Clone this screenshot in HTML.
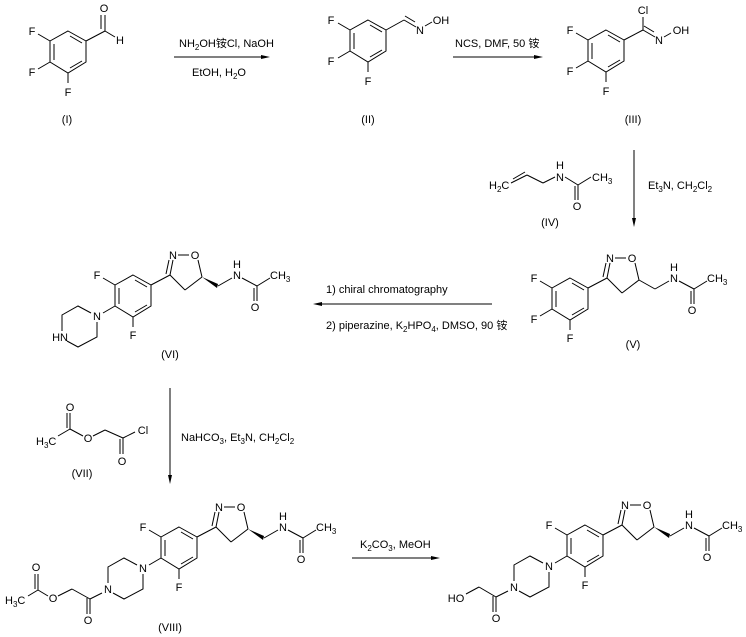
<!DOCTYPE html>
<html><head><meta charset="utf-8"><style>
html,body{margin:0;padding:0;background:#fff;width:746px;height:637px;overflow:hidden}
svg text{font-family:"Liberation Sans","Noto Sans CJK SC",sans-serif;font-size:11px;fill:#000}
.m{text-anchor:middle}.e{text-anchor:end}
</style></head><body>
<svg width="746" height="637" viewBox="0 0 746 637" xmlns="http://www.w3.org/2000/svg">
<defs>
<g id="ring" stroke="#000" stroke-width="1" fill="none">
<polygon points="0,0 18,10 18,31 0,42 -18,31 -18,10"/>
<line x1="2" y1="5" x2="14" y2="12"/><line x1="14" y1="30" x2="2" y2="37"/><line x1="-14" y1="13" x2="-14" y2="29"/>
<line x1="-18" y1="10" x2="-30" y2="3"/><line x1="-18" y1="31" x2="-30" y2="38"/><line x1="0" y1="42" x2="0" y2="52"/>
</g>
<g id="isox" stroke="#000" stroke-width="1" fill="none">
<line x1="18" y1="10" x2="37" y2="0"/>
<line x1="37" y1="0" x2="40" y2="-15"/><line x1="33" y1="-1" x2="36" y2="-15"/>
<line x1="45" y1="-20" x2="56" y2="-20"/>
<line x1="65" y1="-15" x2="69" y2="2"/><line x1="69" y1="2" x2="52" y2="15"/><line x1="52" y1="15" x2="37" y2="0"/>
<line x1="85" y1="11" x2="99" y2="3"/><line x1="109" y1="3" x2="124" y2="11"/><line x1="124" y1="11" x2="137" y2="3"/>
<line x1="124" y1="11" x2="124" y2="26"/><line x1="121" y1="13" x2="121" y2="26"/>
</g>
<g id="pip" stroke="#000" stroke-width="1" fill="none">
<polyline points="-6,-3 -19,-10 -35,-1 -35,15"/><polyline points="-30,25 -19,31 0,21 0,6"/>
</g>
</defs>

<!-- I -->
<use href="#ring" x="68" y="31"/>
<g stroke="#000" fill="none"><line x1="86" y1="41" x2="105" y2="31"/><line x1="105" y1="31" x2="105" y2="15"/><line x1="101" y1="29" x2="101" y2="15"/><line x1="105" y1="31" x2="115" y2="37"/></g>
<text class="m" x="32" y="35">F</text><text class="m" x="32" y="76">F</text><text class="m" x="68" y="96">F</text>
<text class="m" x="104" y="12">O</text><text class="m" x="120" y="44">H</text>
<text class="m" x="67" y="123">(I)</text>

<!-- arrow 1 -->
<line x1="174" y1="57" x2="266" y2="57" stroke="#000"/><polygon points="270,57 261,55 261,59" fill="#000"/>
<text x="179" y="47">NH<tspan font-size="8" dy="3">2</tspan><tspan dy="-3">OH铵Cl, NaOH</tspan></text>
<text x="192" y="76">EtOH, H<tspan font-size="8" dy="3">2</tspan><tspan dy="-3">O</tspan></text>

<!-- II -->
<use href="#ring" x="368" y="20"/>
<g stroke="#000" fill="none"><line x1="386" y1="30" x2="404" y2="20"/><line x1="404" y1="20" x2="416" y2="27"/><line x1="405" y1="16" x2="415" y2="22"/><line x1="425" y1="26" x2="432" y2="22"/></g>
<text class="m" x="331" y="24">F</text><text class="m" x="331" y="65">F</text><text class="m" x="368" y="85">F</text>
<text class="m" x="420" y="34">N</text><text class="m" x="441" y="24">OH</text>
<text class="m" x="368" y="123">(II)</text>

<!-- arrow 2 -->
<line x1="453" y1="57" x2="539" y2="57" stroke="#000"/><polygon points="543,57 534,55 534,59" fill="#000"/>
<text x="455" y="47">NCS, DMF, 50 铵</text>

<!-- III -->
<use href="#ring" x="606" y="30"/>
<g stroke="#000" fill="none"><line x1="624" y1="40" x2="643" y2="30"/><line x1="643" y1="30" x2="643" y2="17"/><line x1="643" y1="30" x2="655" y2="37"/><line x1="644" y1="26" x2="654" y2="32"/><line x1="664" y1="37" x2="671" y2="33"/></g>
<text class="m" x="570" y="34">F</text><text class="m" x="570" y="75">F</text><text class="m" x="606" y="95">F</text>
<text class="m" x="643" y="14">Cl</text><text class="m" x="659" y="44">N</text><text class="m" x="681" y="34">OH</text>
<text class="m" x="633" y="123">(III)</text>

<!-- vertical arrow -->
<line x1="634" y1="150" x2="634" y2="222" stroke="#000"/><polygon points="634,227 632,218 636,218" fill="#000"/>
<text x="648" y="189">Et<tspan font-size="8" dy="3">3</tspan><tspan dy="-3">N, CH</tspan><tspan font-size="8" dy="3">2</tspan><tspan dy="-3">Cl</tspan><tspan font-size="8" dy="3">2</tspan></text>

<!-- IV -->
<g stroke="#000" fill="none"><line x1="511" y1="183" x2="527" y2="175"/><line x1="513" y1="179" x2="525" y2="172"/><line x1="527" y1="175" x2="543" y2="183"/><line x1="543" y1="183" x2="555" y2="177"/><line x1="565" y1="177" x2="578" y2="185"/><line x1="578" y1="185" x2="591" y2="177"/><line x1="578" y1="185" x2="578" y2="200"/><line x1="575" y1="186" x2="575" y2="200"/></g>
<text x="489" y="189">H<tspan font-size="8" dy="3">2</tspan><tspan dy="-3">C</tspan></text>
<text class="m" x="560" y="169">H</text><text class="m" x="560" y="181">N</text>
<text x="592" y="181">CH<tspan font-size="8" dy="3">3</tspan></text><text class="m" x="577" y="210">O</text>
<text class="m" x="550" y="226">(IV)</text>

<!-- V -->
<use href="#ring" x="570" y="278"/><use href="#isox" x="570" y="278"/>
<line x1="639" y1="280" x2="655" y2="289" stroke="#000"/>
<g transform="translate(570,278)">
<text class="m" x="-36" y="4">F</text><text class="m" x="-36" y="45">F</text><text class="m" x="0" y="64">F</text>
<text class="m" x="40" y="-16">N</text><text class="m" x="62" y="-16">O</text>
<text class="m" x="104" y="-7">H</text><text class="m" x="104" y="4">N</text>
<text x="137" y="4">CH<tspan font-size="8" dy="3">3</tspan></text><text class="m" x="122" y="36">O</text>
<text class="m" x="63" y="70">(V)</text></g>

<!-- arrow left -->
<line x1="318" y1="304" x2="492" y2="304" stroke="#000"/><polygon points="313,304 322,302 322,306" fill="#000"/>
<text x="326" y="293">1) chiral chromatography</text>
<text x="326" y="329">2) piperazine, K<tspan font-size="8" dy="3">2</tspan><tspan dy="-3">HPO</tspan><tspan font-size="8" dy="3">4</tspan><tspan dy="-3">, DMSO, 90 铵</tspan></text>

<!-- VI -->
<use href="#ring" x="133" y="275"/><use href="#isox" x="133" y="275"/>
<polygon points="202,277 218,284 217,288" fill="#000"/>
<use href="#pip" x="97" y="316"/>
<g transform="translate(133,275)">
<text class="m" x="-36" y="4">F</text><text class="m" x="-36" y="45">N</text><text class="m" x="0" y="64">F</text>
<text class="m" x="40" y="-16">N</text><text class="m" x="62" y="-16">O</text>
<text class="m" x="104" y="-7">H</text><text class="m" x="104" y="4">N</text>
<text x="137" y="4">CH<tspan font-size="8" dy="3">3</tspan></text><text class="m" x="122" y="36">O</text>
<text class="m" x="37" y="83">(VI)</text></g>
<text class="e" x="68" y="341">HN</text>

<!-- vertical arrow 2 -->
<line x1="170" y1="388" x2="170" y2="479" stroke="#000"/><polygon points="170,484 168,475 172,475" fill="#000"/>
<text x="181" y="441">NaHCO<tspan font-size="8" dy="3">3</tspan><tspan dy="-3">, Et</tspan><tspan font-size="8" dy="3">3</tspan><tspan dy="-3">N, CH</tspan><tspan font-size="8" dy="3">2</tspan><tspan dy="-3">Cl</tspan><tspan font-size="8" dy="3">2</tspan></text>

<!-- VII -->
<g stroke="#000" fill="none"><line x1="58" y1="436" x2="70" y2="429"/><line x1="70" y1="429" x2="70" y2="413"/><line x1="67" y1="428" x2="67" y2="413"/><line x1="70" y1="429" x2="83" y2="436"/><line x1="93" y1="436" x2="105" y2="430"/><line x1="105" y1="430" x2="123" y2="438"/><line x1="123" y1="438" x2="135" y2="432"/><line x1="123" y1="438" x2="123" y2="454"/><line x1="120" y1="439" x2="120" y2="454"/></g>
<text x="36" y="445">H<tspan font-size="8" dy="3">3</tspan><tspan dy="-3">C</tspan></text>
<text class="m" x="70" y="411">O</text><text class="m" x="88" y="442">O</text><text class="m" x="143" y="434">Cl</text><text class="m" x="122" y="465">O</text>
<text class="m" x="82" y="477">(VII)</text>

<!-- VIII -->
<use href="#ring" x="179" y="527"/><use href="#isox" x="179" y="527"/>
<polygon points="248,529 264,536 263,540" fill="#000"/>
<use href="#pip" x="143" y="568"/>
<g transform="translate(179,527)">
<text class="m" x="-36" y="4">F</text><text class="m" x="-36" y="45">N</text><text class="m" x="0" y="64">F</text>
<text class="m" x="40" y="-16">N</text><text class="m" x="62" y="-16">O</text>
<text class="m" x="104" y="-7">H</text><text class="m" x="104" y="4">N</text>
<text x="137" y="4">CH<tspan font-size="8" dy="3">3</tspan></text><text class="m" x="122" y="36">O</text></g>
<text class="m" x="108" y="593">N</text>
<g stroke="#000" fill="none"><line x1="102" y1="593" x2="90" y2="599"/><line x1="90" y1="599" x2="90" y2="614"/><line x1="87" y1="598" x2="87" y2="614"/><line x1="90" y1="599" x2="72" y2="589"/><line x1="72" y1="589" x2="58" y2="596"/><line x1="48" y1="596" x2="38" y2="590"/><line x1="38" y1="590" x2="38" y2="574"/><line x1="35" y1="589" x2="35" y2="574"/><line x1="38" y1="590" x2="28" y2="596"/></g>
<text class="m" x="88" y="624">O</text><text class="m" x="53" y="602">O</text><text class="m" x="36" y="571">O</text>
<text x="5" y="604">H<tspan font-size="8" dy="3">3</tspan><tspan dy="-3">C</tspan></text>
<text class="m" x="170" y="631">(VIII)</text>

<!-- arrow 3 -->
<line x1="352" y1="558" x2="436" y2="558" stroke="#000"/><polygon points="440,558 431,556 431,560" fill="#000"/>
<text x="360" y="548">K<tspan font-size="8" dy="3">2</tspan><tspan dy="-3">CO</tspan><tspan font-size="8" dy="3">3</tspan><tspan dy="-3">, MeOH</tspan></text>

<!-- final -->
<use href="#ring" x="585" y="525"/><use href="#isox" x="585" y="525"/>
<polygon points="654,527 670,534 669,538" fill="#000"/>
<use href="#pip" x="549" y="566"/>
<g transform="translate(585,525)">
<text class="m" x="-36" y="4">F</text><text class="m" x="-36" y="45">N</text><text class="m" x="0" y="64">F</text>
<text class="m" x="40" y="-16">N</text><text class="m" x="62" y="-16">O</text>
<text class="m" x="104" y="-7">H</text><text class="m" x="104" y="4">N</text>
<text x="137" y="4">CH<tspan font-size="8" dy="3">3</tspan></text><text class="m" x="122" y="36">O</text></g>
<text class="m" x="514" y="591">N</text>
<g stroke="#000" fill="none"><line x1="508" y1="591" x2="496" y2="597"/><line x1="496" y1="597" x2="496" y2="612"/><line x1="493" y1="596" x2="493" y2="612"/><line x1="496" y1="597" x2="479" y2="587"/><line x1="479" y1="587" x2="466" y2="594"/></g>
<text class="m" x="496" y="622">O</text><text class="m" x="456" y="602">HO</text>
</svg>
</body></html>
